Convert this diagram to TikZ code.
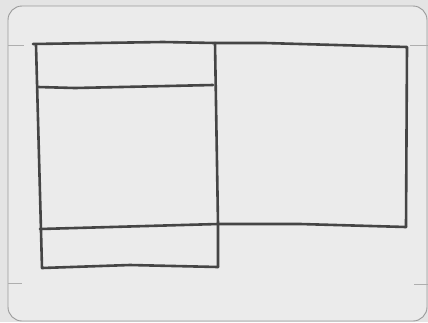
\documentclass[tikz,border=0pt]{standalone}
\usepackage{tikz}
\usetikzlibrary{calc}
\definecolor{paperbg}{HTML}{E4E4E4}
\definecolor{cardbg}{HTML}{EBEBEB}
\definecolor{cardedge}{HTML}{9A9A9A}
\definecolor{penink}{HTML}{454545}
\tikzset{
    card/.style={draw=cardedge, fill=cardbg, line width=0.9pt, rounded corners=14pt},
    tick/.style={draw=cardedge!80, line width=0.8pt},
    pen/.style={draw=penink, line width=2.6pt, line cap=round, line join=round}
}

\begin{document}
\begin{tikzpicture}[x=1pt, y=-1pt]
        \fill[paperbg] (0,0) rectangle (428,322);
        \useasboundingbox (0,0) rectangle (428,322);
        % card and crop marks
        \draw[card] (8,6) rectangle (427,321);
        \draw[tick] (8,45) -- (24,45);
        \draw[tick] (410,45) -- (428,45);
        \draw[tick] (8,283) -- (22,283);
        \draw[tick] (414,284) -- (428,284);
        % corners of the sketch
        \coordinate (tl) at (33,44);
        \coordinate (tm) at (215,43);
        \coordinate (tr) at (407,47);
        \coordinate (hl) at (38,87);
        \coordinate (hr) at (213,85);
        \coordinate (ml) at (40,229);
        \coordinate (mm) at (218,224);
        \coordinate (mr) at (406,227);
        \coordinate (bl) at (42,268);
        \coordinate (bm) at (218,267);
        % outline
        \draw[pen] (tl) -- (163,42) -- (tm) -- (265,43) -- (tr) -- (mr);
        \draw[pen] (36,45) -- (bl) -- (130,265) -- (bm);
        \draw[pen] (tm) -- (mm) -- (bm);
        \draw[pen] (hl) -- (75,88) -- (hr);
        \draw[pen] (ml) -- (mm) -- (300,224) -- (mr);
    \end{tikzpicture}
\end{document}
